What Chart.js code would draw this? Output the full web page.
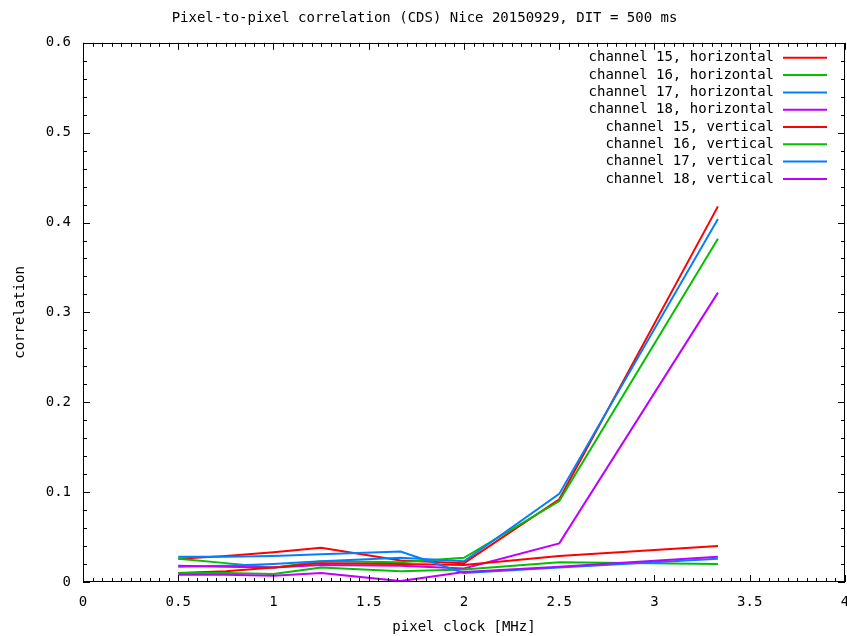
<!DOCTYPE html>
<html lang="en">
<head>
<meta charset="UTF-8">
<title>Pixel-to-pixel correlation (CDS)</title>
<script src="https://cdn.jsdelivr.net/npm/chart.js"></script>
<style>
  body { margin: 0; background: #fff; }
</style>
</head>
<body>
<canvas id="chart" width="847" height="636"></canvas>
<script>
// pixel clock values (MHz) shared by every series
const clockMHz = [0.5, 0.75, 1, 1.25, 1.667, 2, 2.5, 3.333];

// correlation
const ch15H = [0.026, 0.029, 0.033, 0.038, 0.024, 0.021, 0.092, 0.418];
const ch16H = [0.026, 0.021, 0.016, 0.023, 0.022, 0.027, 0.090, 0.382];
const ch17H = [0.017, 0.018, 0.020, 0.023, 0.027, 0.023, 0.098, 0.404];
const ch18H = [0.018, 0.017, 0.016, 0.019, 0.018, 0.015, 0.043, 0.322];
const ch15V = [0.010, 0.012, 0.016, 0.021, 0.020, 0.019, 0.029, 0.040];
const ch16V = [0.010, 0.010, 0.009, 0.016, 0.012, 0.014, 0.022, 0.020];
const ch17V = [0.028, 0.028, 0.029, 0.031, 0.034, 0.010, 0.016, 0.026];
const ch18V = [0.008, 0.008, 0.007, 0.010, 0.001, 0.011, 0.017, 0.028];

const seriesNames = [
    'channel 15, horizontal', 'channel 16, horizontal',
    'channel 17, horizontal', 'channel 18, horizontal',
    'channel 15, vertical', 'channel 16, vertical',
    'channel 17, vertical', 'channel 18, vertical'
];
const seriesValues = [ch15H, ch16H, ch17H, ch18H, ch15V, ch16V, ch17V, ch18V];
const channelColors = ['#ff0000', '#00c000', '#0080ff', '#c000ff'];

const xTickStep = 0.5, xMinorStep = 0.05;
const yTickStep = 0.1, yMinorStep = 0.02;

const monoFont = "'DejaVu Sans Mono', 'Liberation Mono', monospace";
Chart.defaults.font.family = monoFont;
Chart.defaults.font.size = 14;
Chart.defaults.color = '#000';

// gnuplot style box with inward ticks on all four sides
const frameTicks = {
    id: 'frameTicks',
    afterDatasetsDraw(chart) {
        const { ctx, chartArea: a, scales: { x, y } } = chart;
        ctx.save();
        ctx.strokeStyle = '#000';
        ctx.lineWidth = 1;
        ctx.beginPath();
        const nx = Math.round((x.max - x.min) / xMinorStep);
        const perX = Math.round(xTickStep / xMinorStep);
        for (let i = 0; i <= nx; i++) {
            const px = Math.round(x.getPixelForValue(x.min + i * xMinorStep)) + 0.5;
            const len = i % perX === 0 ? 7 : 4;
            ctx.moveTo(px, a.bottom); ctx.lineTo(px, a.bottom - len);
            ctx.moveTo(px, a.top); ctx.lineTo(px, a.top + len);
        }
        const ny = Math.round((y.max - y.min) / yMinorStep);
        const perY = Math.round(yTickStep / yMinorStep);
        for (let i = 0; i <= ny; i++) {
            const py = Math.round(y.getPixelForValue(y.min + i * yMinorStep)) + 0.5;
            const len = i % perY === 0 ? 7 : 4;
            ctx.moveTo(a.left, py); ctx.lineTo(a.left + len, py);
            ctx.moveTo(a.right, py); ctx.lineTo(a.right - len, py);
        }
        ctx.stroke();
        ctx.strokeRect(Math.round(a.left) + 0.5, Math.round(a.top) + 0.5,
            Math.round(a.right - a.left) - 1, Math.round(a.bottom - a.top) - 1);
        ctx.restore();
    }
};

// key in the top right corner, text right aligned, sample line after it
const insideKey = {
    id: 'insideKey',
    afterDraw(chart) {
        const { ctx, chartArea: a } = chart;
        ctx.save();
        ctx.font = '14px ' + monoFont;
        ctx.textAlign = 'right';
        ctx.textBaseline = 'middle';
        chart.data.datasets.forEach((ds, i) => {
            const yy = a.top + 15 + i * 17.3;
            ctx.fillStyle = '#000';
            ctx.fillText(ds.label, a.right - 71, yy);
            ctx.strokeStyle = ds.borderColor;
            ctx.lineWidth = 2;
            ctx.beginPath();
            ctx.moveTo(a.right - 62, yy);
            ctx.lineTo(a.right - 18, yy);
            ctx.stroke();
        });
        ctx.restore();
    }
};

const datasets = seriesNames.map((name, i) => ({
    label: name,
    data: clockMHz.map((c, k) => ({ x: c, y: seriesValues[i][k] })),
    borderColor: channelColors[i % 4],
    backgroundColor: channelColors[i % 4],
    borderWidth: 2,
    pointRadius: 0,
    tension: 0,
    fill: false,
    order: seriesNames.length - i
}));

const plainNumber = v => String(+Number(v).toFixed(2));

new Chart(document.getElementById('chart'), {
    type: 'line',
    data: { datasets },
    options: {
        responsive: false,
        animation: false,
        layout: { padding: { left: 4, right: 2, top: 0, bottom: 0 } },
        plugins: {
            legend: { display: false },
            tooltip: { enabled: false },
            title: {
                display: true,
                text: 'Pixel-to-pixel correlation (CDS) Nice 20150929, DIT = 500 ms',
                font: { size: 14, weight: 'normal' },
                color: '#000',
                padding: { top: 10, bottom: 16 }
            }
        },
        scales: {
            x: {
                type: 'linear',
                min: 0,
                max: 4,
                ticks: { stepSize: xTickStep, padding: 12, color: '#000', callback: plainNumber },
                grid: { display: false, drawTicks: false },
                border: { display: false },
                title: { display: true, text: 'pixel clock [MHz]', color: '#000', padding: { top: -3.6, bottom: 0 } },
                afterFit(scale) { scale.paddingRight = 0; }
            },
            y: {
                min: 0,
                max: 0.6,
                ticks: { stepSize: yTickStep, padding: 12, color: '#000', callback: plainNumber },
                grid: { display: false, drawTicks: false },
                border: { display: false },
                title: { display: true, text: 'correlation', color: '#000', padding: { top: 7.6, bottom: 5.3 } }
            }
        }
    },
    plugins: [frameTicks, insideKey]
});
</script>
</body>
</html>
